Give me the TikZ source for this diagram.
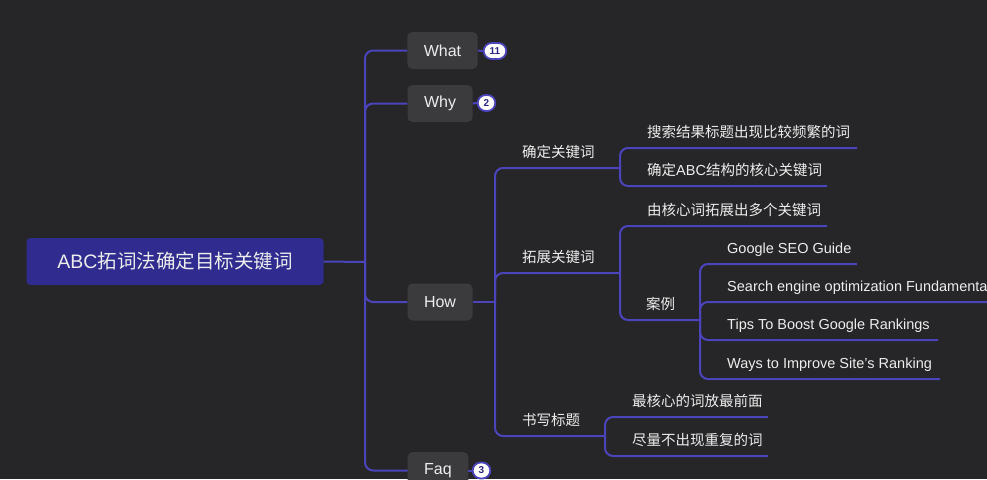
\documentclass[tikz,border=0pt]{standalone}
\usepackage{fontspec}
\setmainfont{Liberation Sans}
\newfontfamily\cjk{Noto Sans CJK SC}
\definecolor{bgc}{HTML}{262628}
\definecolor{linec}{HTML}{4C44BA}
\definecolor{rootc}{HTML}{2F2B8F}
\definecolor{boxc}{HTML}{3B3B3E}
\definecolor{txt}{HTML}{EDEDED}
\definecolor{badgec}{HTML}{2A2580}
\begin{document}
\begin{tikzpicture}[x=1pt,y=-1pt,
 link/.style={draw=linec, line width=2pt, rounded corners=8pt},
 rootbox/.style={fill=rootc, rounded corners=4pt, text=txt, font=\cjk\fontsize{19.5}{22}\selectfont, minimum height=47pt, minimum width=297pt, inner sep=0pt},
 topic/.style={fill=boxc, rounded corners=5pt, text=txt, font=\fontsize{16}{18}\selectfont, minimum height=37pt, inner xsep=16.5pt, inner ysep=0pt},
 badge/.style={fill=white, draw=linec, line width=1.8pt, rounded corners=8pt, minimum height=16pt, minimum width=17pt, inner xsep=6pt, inner ysep=0pt, text=badgec, font=\bfseries\fontsize{10}{11}\selectfont},
 lbl/.style={anchor=base west, inner sep=0pt, text=txt, font=\cjk\fontsize{14.5}{16}\selectfont},
 lbll/.style={lbl, font=\fontsize{14.5}{16}\selectfont}]
\useasboundingbox (0,0) rectangle (987,479);
\clip (0,0) rectangle (987,479);
\fill[bgc] (0,0) rectangle (987,479);

% root and level-1 topics
\node[rootbox] (root) at (175,261.5) {{\rmfamily ABC}拓词法确定目标关键词};
\node[topic] (what) at (442.5,50.5) {What};
\node[topic] (why) at (440,103.5) {Why};
\node[topic] (how) at (440,302) {How};
\node[topic] (faq) at (438,470.5) {Faq};
\node[badge] (b1) at (495,51) {11};
\node[badge] (b2) at (486.5,103) {2};
\node[badge] (b3) at (481.5,470.5) {3};

\coordinate (tj) at (365,262);
\draw[link] (what.west) -| (tj) |- (faq.west);
\draw[link] (root.east) -- (tj);
\draw[link] (tj) |- (why.west);
\draw[link] (tj) |- (how.west);
\draw[link] (what.east) -- (b1.west);
\draw[link] (why.east) -- (b2.west);
\draw[link] (faq.east) -- (b3.west);

% level 2
\coordinate (hj) at (495,302);
\node[lbl] (k1) at (522,157.5) {确定关键词};
\node[lbl] (k2) at (522,262.5) {拓展关键词};
\node[lbl] (k3) at (522,425.5) {书写标题};
\coordinate (k1j) at (620,168);
\coordinate (k2j) at (620,273);
\coordinate (k3j) at (605,436);
\draw[link] (how.east) -- (hj);
\draw[link] (k1j) -| (hj) |- (k3j);
\draw[link] (hj) |- (k2j);

% level 3 under k1
\node[lbl] (c11) at (647,137.5) {搜索结果标题出现比较频繁的词};
\node[lbl] (c12) at (647,175.5) {确定{\rmfamily ABC}结构的核心关键词};
\coordinate (c11e) at (857,148);
\coordinate (c12e) at (827,186);
\draw[link] (k1j) |- (c11e);
\draw[link] (k1j) |- (c12e);

% level 3 under k2
\node[lbl] (c21) at (647,215.5) {由核心词拓展出多个关键词};
\node[lbl] (c22) at (646,309.5) {案例};
\coordinate (c21e) at (827,226);
\coordinate (c22j) at (700,320);
\draw[link] (k2j) |- (c21e);
\draw[link] (k2j) |- (c22j);

% level 4 under 案例
\node[lbll] (d1) at (727,253.5) {Google SEO Guide};
\node[lbll] (d2) at (727,291.5) {Search engine optimization Fundamentals};
\node[lbll] (d3) at (727,329.5) {Tips To Boost Google Rankings};
\node[lbll] (d4) at (727,368.5) {Ways to Improve Site's Ranking};
\coordinate (d1e) at (857,264);
\coordinate (d2e) at (1000,302);
\coordinate (d3e) at (938,340);
\coordinate (d4e) at (940,379);
\draw[link] (c22j) |- (d1e);
\draw[link] (c22j) |- (d2e);
\draw[link] (c22j) |- (d3e);
\draw[link] (c22j) |- (d4e);

% level 3 under k3
\node[lbl] (e1) at (632,406.5) {最核心的词放最前面};
\node[lbl] (e2) at (632,445.5) {尽量不出现重复的词};
\coordinate (e1e) at (768,417);
\coordinate (e2e) at (768,456);
\draw[link] (k3j) |- (e1e);
\draw[link] (k3j) |- (e2e);
\end{tikzpicture}
\end{document}
